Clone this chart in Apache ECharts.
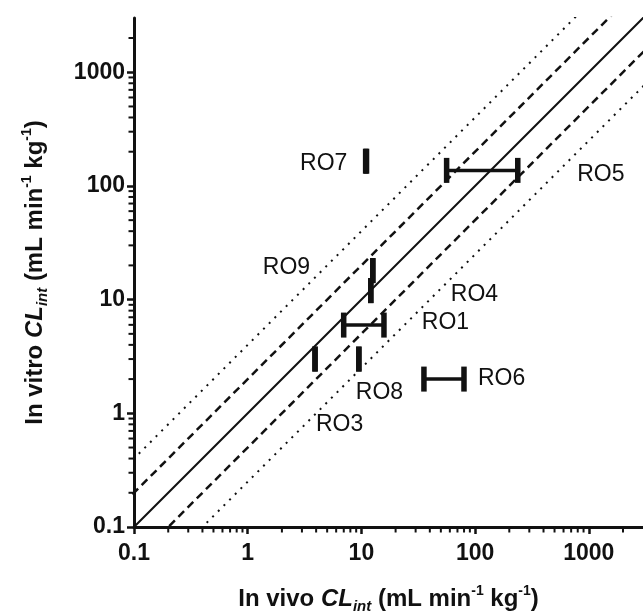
<!DOCTYPE html>
<html>
<head>
<meta charset="utf-8">
<script src="https://cdn.jsdelivr.net/npm/echarts@6/dist/echarts.min.js"></script>
<style>
  html, body { margin: 0; padding: 0; background: #fff; }
  #chart { width: 643px; height: 611px; }
</style>
</head>
<body>
<div id="chart"></div>
<script>
// compounds and their in vivo CLint range / in vitro CLint
const compounds  = ['RO1', 'RO3', 'RO4', 'RO5', 'RO6', 'RO7', 'RO8', 'RO9'];
const invivoLow  = [6.99, 3.91, 12.1, 56.2, 35.5, 10.9, 9.5, 12.6];
const invivoHigh = [15.8, 3.91, 12.1, 237.5, 79.9, 11.1, 9.5, 12.6];
const invitro    = [5.97, 3.0, 12.0, 137, 2.0, 165, 3.0, 18.0];
const axisTicks  = [0.1, 1, 10, 100, 1000];
const minorSteps = [2, 3, 4, 5, 6, 7, 8, 9];
// unity, 2-fold and 4-fold lines
const foldFactors = [1, 2, 0.5, 4, 0.25];
const foldStyles  = [
    { type: 'solid', width: 2 },
    { type: [8, 5], width: 2.5 },
    { type: [8, 5], width: 2.5 },
    { type: [2, 6], width: 2 },
    { type: [2, 6], width: 2 }
];
// where each name sits next to its bar (pixels from bar centre)
const labelPos = {
    RO1: [58, -2], RO3: [1, 66], RO4: [80, 4], RO5: [95, 4],
    RO6: [34, 0], RO7: [-66, 2], RO8: [-3, 34], RO9: [-110, -3]
};

const ink = '#111';
const font = '"Liberation Sans", Arial, Helvetica, sans-serif';
const xMin = 0.1, xMax = 3000;

let chart = echarts.init(document.getElementById('chart'));

const richName = {
    b: { fontSize: 24, fontWeight: 'bold', color: ink, fontFamily: font, lineHeight: 30 },
    i: { fontSize: 24, fontWeight: 'bold', fontStyle: 'italic', color: ink, fontFamily: font, lineHeight: 30 },
    s: { fontSize: 15, fontWeight: 'bold', fontStyle: 'italic', color: ink, fontFamily: font, verticalAlign: 'bottom', lineHeight: 15 },
    p: { fontSize: 14, fontWeight: 'bold', color: ink, fontFamily: font, verticalAlign: 'top', lineHeight: 14 }
};

function makeAxis(prefix, gap, labelMargin) {
    return {
        type: 'log',
        logBase: 10,
        min: xMin,
        max: xMax,
        name: '{b|' + prefix + ' }{i|CL}{s|int}{b| (mL min}{p|-1}{b| kg}{p|-1}{b|)}',
        nameLocation: 'middle',
        nameGap: gap,
        nameTextStyle: { rich: richName },
        axisLine: { lineStyle: { color: ink, width: 3 } },
        axisTick: { length: 7, lineStyle: { color: ink, width: 2.5 } },
        minorTick: { show: false },
        splitLine: { show: false },
        axisLabel: {
            fontSize: 23,
            fontWeight: 'bold',
            color: ink,
            fontFamily: font,
            margin: labelMargin,
            showMaxLabel: false,
            formatter: v => String(+(+v).toPrecision(6))
        }
    };
}

// minor tick values between the labelled decades
const minorVals = [];
axisTicks.forEach(d => minorSteps.forEach(k => {
    const v = +(d * k).toPrecision(6);
    if (v < xMax) minorVals.push(v);
}));

const series = [];
foldFactors.forEach((f, i) => {
    series.push({
        type: 'line',
        data: [[xMin / 8, xMin / 8 * f], [xMax * 8, xMax * 8 * f]],
        symbol: 'none',
        silent: true,
        clip: true,
        lineStyle: Object.assign({ color: ink }, foldStyles[i])
    });
});

// minor ticks on both log axes
series.push({
    type: 'custom',
    silent: true,
    clip: false,
    encode: { x: 0, y: 1 },
    data: minorVals.map(v => [v, xMin, 0]).concat(minorVals.map(v => [xMin, v, 1])),
    renderItem: function (params, api) {
        const p = api.coord([api.value(0), api.value(1)]);
        const len = 4;
        const shape = api.value(2) === 0
            ? { x1: p[0], y1: p[1], x2: p[0], y2: p[1] + len + 1.5 }
            : { x1: p[0] - len - 1.5, y1: p[1], x2: p[0], y2: p[1] };
        return { type: 'line', shape: shape, style: { stroke: ink, lineWidth: 2 } };
    },
    z: 1
});

// error bars: horizontal range with thick caps
series.push({
    type: 'custom',
    encode: { x: [0, 1], y: 2 },
    data: compounds.map((c, i) => [invivoLow[i], invivoHigh[i], invitro[i]]),
    renderItem: function (params, api) {
        const lo = api.coord([api.value(0), api.value(2)]);
        const hi = api.coord([api.value(1), api.value(2)]);
        const h = 12.5, w = 5.5;
        const children = [];
        if (hi[0] - lo[0] > 3) {
            children.push({
                type: 'line',
                shape: { x1: lo[0], y1: lo[1], x2: hi[0], y2: hi[1] },
                style: { stroke: ink, lineWidth: 3.5 }
            });
        }
        children.push({ type: 'rect', shape: { x: lo[0] - w / 2, y: lo[1] - h, width: w, height: 2 * h }, style: { fill: ink } });
        children.push({ type: 'rect', shape: { x: hi[0] - w / 2, y: hi[1] - h, width: w, height: 2 * h }, style: { fill: ink } });
        return { type: 'group', children: children };
    },
    z: 5
});

// compound names
series.push({
    type: 'scatter',
    symbolSize: 0,
    silent: true,
    itemStyle: { opacity: 1 },
    data: compounds.map((c, i) => ({
        name: c,
        value: [Math.sqrt(invivoLow[i] * invivoHigh[i]), invitro[i]],
        label: { position: labelPos[c] }
    })),
    label: {
        show: true,
        formatter: '{b}',
        align: 'left',
        verticalAlign: 'middle',
        fontSize: 23,
        color: ink,
        opacity: 1,
        fontFamily: font
    },
    z: 6
});

chart.setOption({
    animation: false,
    backgroundColor: '#fff',
    grid: { left: 134, top: 18, width: 509, height: 509, outerBoundsMode: 'none', containLabel: false },
    xAxis: makeAxis('In vivo', 57, 15),
    yAxis: makeAxis('In vitro', 84, 9),
    series: series
});
</script>
</body>
</html>
